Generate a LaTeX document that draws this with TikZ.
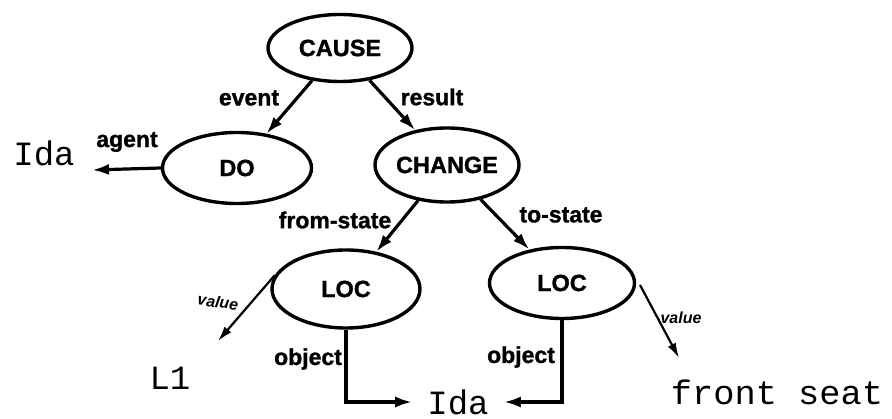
\documentclass[tikz,border=0pt]{standalone}
\usepackage{fontspec}
\setmainfont{Liberation Sans}[BoldFeatures={FakeBold=1.2}]
\newfontfamily\monof{Liberation Mono}
\usetikzlibrary{arrows.meta,shapes.geometric}
\begin{document}
\begin{tikzpicture}[x=1pt,y=-1pt,
 concept/.style={ellipse,draw,line width=3.4pt,inner sep=0pt,font=\fontsize{23.5}{25}\selectfont\bfseries},
 rel/.style={line width=3.2pt,-{Latex[length=17pt,width=11pt]}},
 vrel/.style={line width=2.2pt,-{Latex[length=15pt,width=9pt]}},
 elab/.style={font=\fontsize{23}{25}\selectfont\bfseries,inner sep=0pt},
 vlab/.style={font=\fontsize{16}{17}\selectfont\bfseries\itshape,inner sep=0pt},
 term/.style={font=\fontsize{34}{36}\selectfont\monof,inner sep=0pt}]
\useasboundingbox[fill=white] (0,0) rectangle (892,419);
% concepts
\node[concept,minimum width=144pt,minimum height=67pt] (cause) at (340,48) {CAUSE};
\node[concept,minimum width=149pt,minimum height=71pt] (do) at (237,168) {DO};
\node[concept,minimum width=140pt,minimum height=74pt] (change) at (447,165) {CHANGE};
\node[concept,minimum width=148pt,minimum height=78pt] (loca) at (346,289) {LOC};
\node[concept,minimum width=145pt,minimum height=71pt] (locb) at (562,283) {LOC};
% terminal texts
\node[term] (ida1) at (44,153) {Ida};
\node[term] (l1) at (170,378) {L1};
\node[term,inner xsep=15pt] (ida2) at (458,402) {Ida};
\node[term,xscale=1.04] (seat) at (777,392) {front seat};
% free ends
\coordinate (agentend) at (92,170);
\coordinate (v1end) at (218,341);
\coordinate (v2start) at (640,285);
\coordinate (v2end) at (679,358);
% connectors
\draw[rel] (cause) -- (do);
\draw[rel] (cause) -- (change);
\draw[rel] (do.west) -- (agentend);
\draw[rel] (change) -- (loca);
\draw[rel] (change) -- (locb);
\draw[vrel] (loca.169) -- (v1end);
\draw[vrel] (v2start) -- (v2end);
\draw[rel] (loca.south) |- (ida2.west);
\draw[rel] (locb.south) |- (ida2.east);
% labels
\node[elab] (levent) at (249,98) {event};
\node[elab] (lresult) at (432,97) {result};
\node[elab] (lagent) at (127,142) {agent};
\node[elab] (lfrom) at (335,220) {from-state};
\node[elab] (lto) at (561,215) {to-state};
\node[vlab,rotate=-8] (lval1) at (218,302) {value};
\node[vlab] (lval2) at (681,318) {value};
\node[elab] (lobj1) at (308,359) {object};
\node[elab] (lobj2) at (521,357) {object};
\end{tikzpicture}
\end{document}
